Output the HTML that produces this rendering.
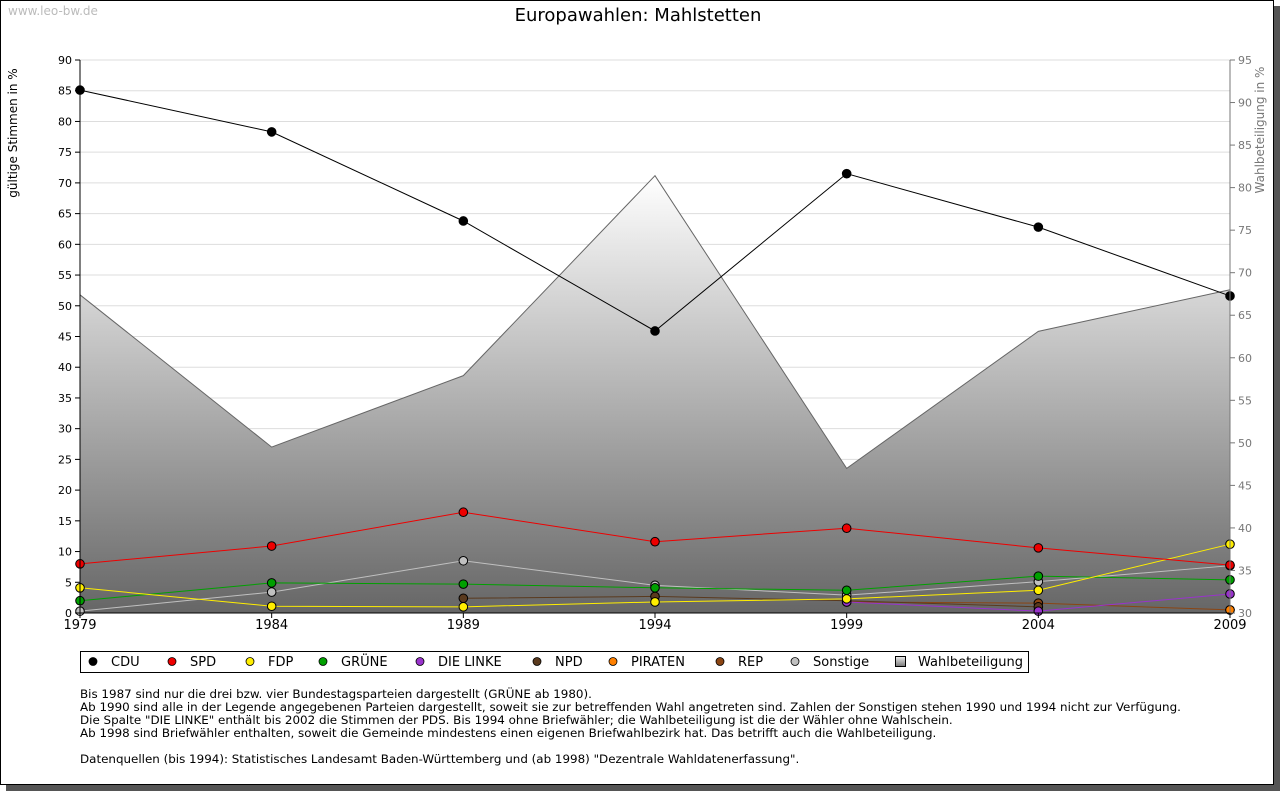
<!DOCTYPE html>
<html><head><meta charset="utf-8"><style>
body{margin:0;background:#fff;width:1280px;height:791px;overflow:hidden;font-family:"Liberation Sans","DejaVu Sans",sans-serif}
svg text{font-family:"DejaVu Sans","Liberation Sans",sans-serif}
</style></head><body>
<svg id="c" width="1280" height="791" xmlns="http://www.w3.org/2000/svg">
<defs><linearGradient id="g" x1="0" y1="0" x2="0" y2="1"><stop offset="0" stop-color="#ffffff"/><stop offset="1" stop-color="#666666"/></linearGradient>
<linearGradient id="lg" x1="0" y1="0" x2="0" y2="1"><stop offset="0" stop-color="#eee"/><stop offset="1" stop-color="#777"/></linearGradient></defs>
<rect x="6" y="6" width="1274" height="785" fill="#555"/>
<rect x="0.5" y="0.5" width="1273" height="784" fill="#fff" stroke="#000"/>
<text x="8" y="15" font-size="12" fill="#bbb">www.leo-bw.de</text>
<text x="638" y="21" font-size="18" text-anchor="middle">Europawahlen: Mahlstetten</text>
<text transform="translate(17,133) rotate(-90)" font-size="12" text-anchor="middle">gültige Stimmen in %</text>
<text transform="translate(1264,130) rotate(-90)" font-size="12" fill="#777" text-anchor="middle">Wahlbeteiligung in %</text>
<g id="grid"></g><g id="area"></g><g id="series"></g><g id="axes"></g>
<g id="legend"></g>
<text font-size="11.9">
<tspan x="80" y="698">Bis 1987 sind nur die drei bzw. vier Bundestagsparteien dargestellt (GRÜNE ab 1980).</tspan>
<tspan x="80" y="711">Ab 1990 sind alle in der Legende angegebenen Parteien dargestellt, soweit sie zur betreffenden Wahl angetreten sind. Zahlen der Sonstigen stehen 1990 und 1994 nicht zur Verfügung.</tspan>
<tspan x="80" y="724">Die Spalte "DIE LINKE" enthält bis 2002 die Stimmen der PDS. Bis 1994 ohne Briefwähler; die Wahlbeteiligung ist die der Wähler ohne Wahlschein.</tspan>
<tspan x="80" y="737">Ab 1998 sind Briefwähler enthalten, soweit die Gemeinde mindestens einen eigenen Briefwahlbezirk hat. Das betrifft auch die Wahlbeteiligung.</tspan>
<tspan x="80" y="763">Datenquellen (bis 1994): Statistisches Landesamt Baden-Württemberg und (ab 1998) "Dezentrale Wahldatenerfassung".</tspan>
</text>
</svg>
<script>
const years=[1979,1984,1989,1994,1999,2004,2009];
const cdu=[85.1,78.3,63.8,45.9,71.5,62.8,51.6];
const spd=[8.0,10.9,16.4,11.6,13.8,10.6,7.8];
const fdp=[4.1,1.1,1.0,1.8,2.3,3.7,11.2];
const gruene=[2.0,4.9,4.7,4.1,3.7,6.0,5.4];
const linke=[null,null,null,null,1.8,0.3,3.1];
const npd=[null,null,2.4,2.7,2.0,1.0,null];
const piraten=[null,null,null,null,null,null,0.5];
const rep=[null,null,null,null,1.8,1.6,0.5];
const sonstige=[0.3,3.4,8.5,4.5,2.9,5.1,7.7];
const turnout=[67.4,49.5,57.9,81.4,47.0,63.1,68.0];
const leftTicks=[0,5,10,15,20,25,30,35,40,45,50,55,60,65,70,75,80,85,90];
const rightTicks=[30,35,40,45,50,55,60,65,70,75,80,85,90,95];
const NS="http://www.w3.org/2000/svg";
const X0=80,X1=1230,Y0=613,Y1=60;
const x=y=>X0+(y-1979)/(2009-1979)*(X1-X0);
const yl=v=>Y0-v/90*(Y0-Y1);
const yr=v=>Y0-(v-30)/65*(Y0-Y1);
function mk(tag,at,parent){const e=document.createElementNS(NS,tag);for(const k in at)e.setAttribute(k,at[k]);document.getElementById(parent).appendChild(e);return e;}
leftTicks.forEach(t=>{
 const l=mk('line',{x1:X0-5,x2:X1,y1:yl(t),y2:yl(t),stroke:'#ddd'},'grid');
 
 
 const tk=mk('line',{x1:X0-5,x2:X0,y1:yl(t),y2:yl(t),stroke:'#000'},'axes');
 
 
 const tx=mk('text',{x:X0-8,y:yl(t)+4,'font-size':11,'text-anchor':'end'},'axes');tx.textContent=t;
 
 
});
rightTicks.forEach(t=>{
 const tk=mk('line',{x1:X1,x2:X1+5,y1:yr(t),y2:yr(t),stroke:'#777'},'axes');
 
 
 const tx=mk('text',{x:X1+8,y:yr(t)+4,'font-size':11,fill:'#777'},'axes');tx.textContent=t;
 
 
});
let pts=years.map((y,i)=>x(y)+','+yr(turnout[i])).join(' ');
const ar=mk('polygon',{points:X0+','+Y0+' '+pts+' '+X1+','+Y0,fill:'url(#g)',stroke:'#666'},'area');


const ax=mk('path',{d:`M${X0},${Y1}V${Y0}H${X1}`,stroke:'#000',fill:'none'},'axes');


const ax2=mk('line',{x1:X1,x2:X1,y1:Y1,y2:Y0,stroke:'#777'},'axes');


years.forEach(y=>{
 const tk=mk('line',{x1:x(y),x2:x(y),y1:Y0,y2:Y0+5,stroke:'#000'},'axes');
 
 
 const tx=mk('text',{x:x(y),y:Y0+16,'font-size':13,'text-anchor':'middle'},'axes');tx.textContent=y;
 
 
});
const series=[['sonstige',sonstige,'#c0c0c0'],['rep',rep,'#8b4513'],['piraten',piraten,'#ff8000'],['npd',npd,'#5a3a1e'],['linke',linke,'#9933cc'],['gruene',gruene,'#00a000'],['fdp',fdp,'#ffee00'],['spd',spd,'#ee0000'],['cdu',cdu,'#000000']];
series.forEach(([n,d,c])=>{
 let seg=[];d.forEach((v,i)=>{if(v!=null)seg.push(x(years[i])+','+yl(v));});
 const pl=mk('polyline',{points:seg.join(' '),fill:'none',stroke:c,'stroke-width':1},'series');
 
 
 d.forEach((v,i)=>{if(v==null)return;
  const m=mk('circle',{cx:x(years[i]),cy:yl(v),r:4.3,fill:c,stroke:'#000','stroke-width':1},'series');
  
  });
});
const lbox=mk('rect',{x:80.5,y:651.5,width:948,height:21,fill:'#fff',stroke:'#000'},'legend');


const leg=[['CDU','#000',93],['SPD','#ee0000',172],['FDP','#ffee00',250],['GRÜNE','#00a000',323],['DIE LINKE','#9933cc',420],['NPD','#5a3a1e',537],['PIRATEN','#ff8000',613],['REP','#8b4513',720],['Sonstige','#c0c0c0',795]];
leg.forEach(([t,c,lx])=>{
 const m=mk('circle',{cx:lx,cy:661.5,r:4,fill:c,stroke:'#000','stroke-width':0.8},'legend');
 
 
 const tx=mk('text',{x:lx+18,y:666,'font-size':13},'legend');tx.textContent=t;
 
 
});
const sq=mk('rect',{x:895.5,y:656.5,width:10,height:10,fill:'url(#lg)',stroke:'#000'},'legend');


const tt=mk('text',{x:918,y:666,'font-size':13},'legend');tt.textContent='Wahlbeteiligung';


</script>
</body></html>
